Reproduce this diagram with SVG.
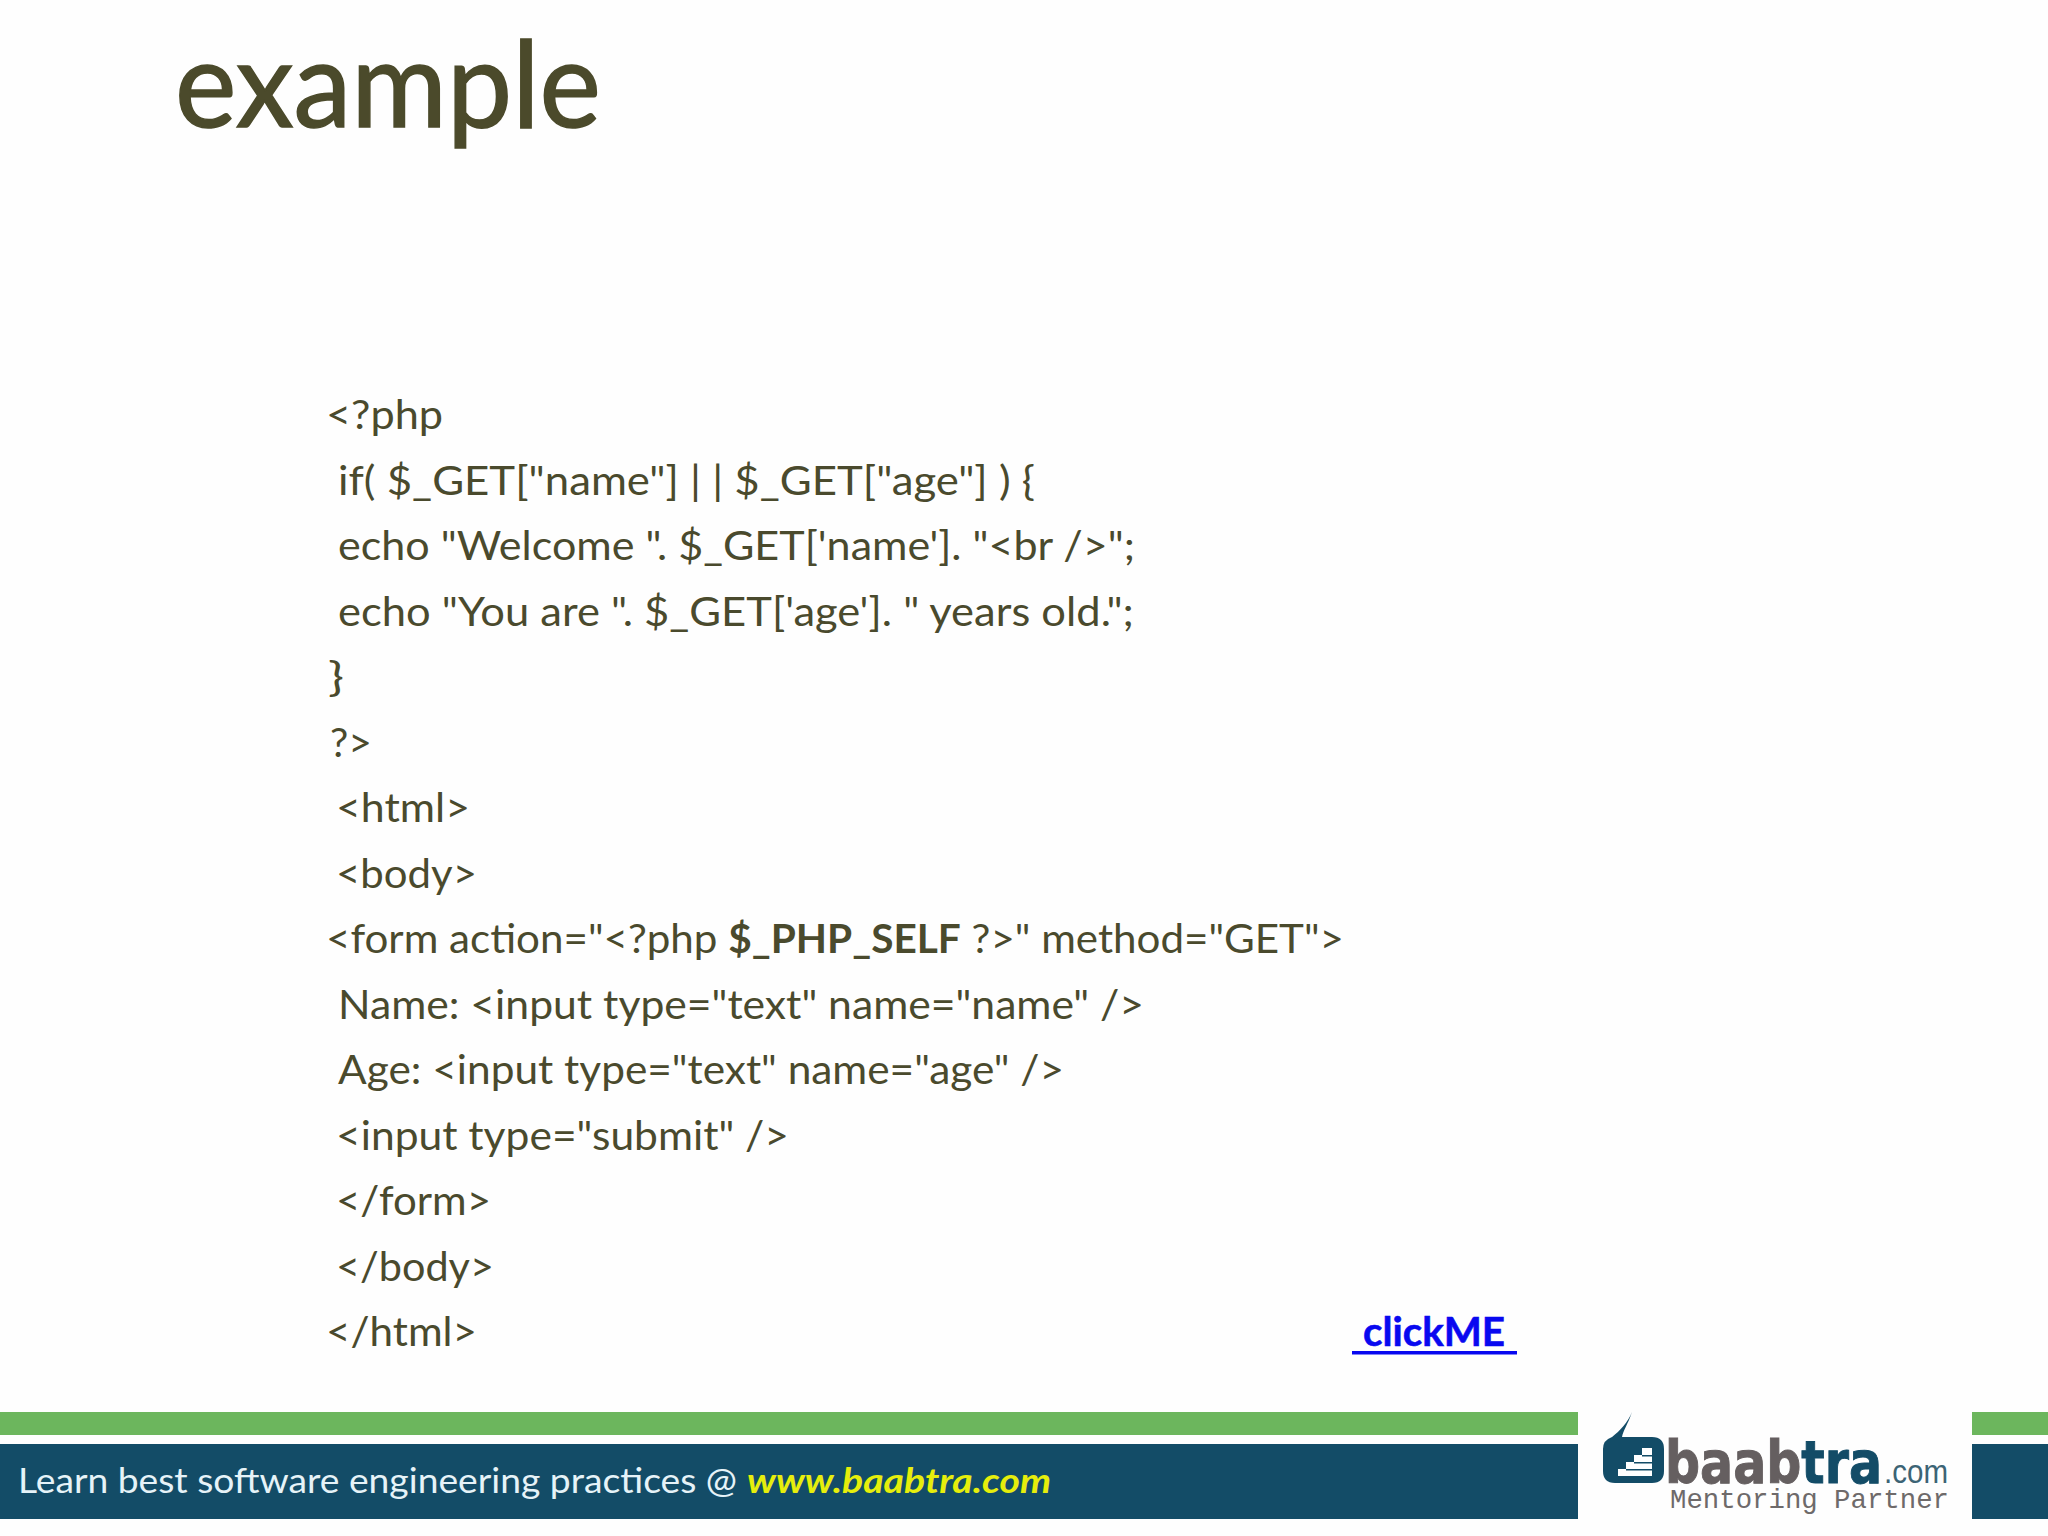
<svg xmlns="http://www.w3.org/2000/svg" width="2048" height="1536" viewBox="0 0 2048 1536">
<style>
text{font-family:Lato,"Open Sans",sans-serif}
.c{font-size:41px;fill:#4a4a2d}
.g{fill:#6cb65d}
.b{fill:#134c67}
</style>
<rect width="2048" height="1536" fill="#fefefe"/>
<text x="175" y="127" font-size="120" fill="#4b4a2b" stroke="#4b4a2b" stroke-width="1.5" textLength="426" lengthAdjust="spacingAndGlyphs">example</text>
<g id="code">
<text class="c" x="326" y="429" textLength="117" lengthAdjust="spacingAndGlyphs">&lt;?php</text>
<text class="c" x="338" y="495" textLength="697" lengthAdjust="spacingAndGlyphs">if( $_GET["name"] | | $_GET["age"] ) {</text>
<text class="c" x="338" y="560" textLength="797" lengthAdjust="spacingAndGlyphs">echo "Welcome ". $_GET['name']. "&lt;br /&gt;";</text>
<text class="c" x="338" y="626" textLength="796" lengthAdjust="spacingAndGlyphs">echo "You are ". $_GET['age']. " years old.";</text>
<text class="c" x="328" y="691" textLength="16" lengthAdjust="spacingAndGlyphs">}</text>
<text class="c" x="330" y="757" textLength="42" lengthAdjust="spacingAndGlyphs">?&gt;</text>
<text class="c" x="336" y="822" textLength="134" lengthAdjust="spacingAndGlyphs">&lt;html&gt;</text>
<text class="c" x="336" y="888" textLength="141" lengthAdjust="spacingAndGlyphs">&lt;body&gt;</text>
<text class="c" x="326" y="953" textLength="1018" lengthAdjust="spacingAndGlyphs">&lt;form action="&lt;?php <tspan font-weight="700" font-size="39.5">$_PHP_SELF</tspan> ?&gt;" method="GET"&gt;</text>
<text class="c" x="338" y="1019" textLength="806" lengthAdjust="spacingAndGlyphs">Name: &lt;input type="text" name="name" /&gt;</text>
<text class="c" x="338" y="1084" textLength="726" lengthAdjust="spacingAndGlyphs">Age: &lt;input type="text" name="age" /&gt;</text>
<text class="c" x="336" y="1150" textLength="453" lengthAdjust="spacingAndGlyphs">&lt;input type="submit" /&gt;</text>
<text class="c" x="336" y="1215" textLength="155" lengthAdjust="spacingAndGlyphs">&lt;/form&gt;</text>
<text class="c" x="336" y="1281" textLength="158" lengthAdjust="spacingAndGlyphs">&lt;/body&gt;</text>
<text class="c" x="326" y="1346" textLength="151" lengthAdjust="spacingAndGlyphs">&lt;/html&gt;</text>
</g>
<g id="link">
<text x="1363" y="1346" font-size="41" font-weight="700" fill="#0808f0" stroke="#0808f0" stroke-width=".6" textLength="142" lengthAdjust="spacingAndGlyphs">clickME</text>
<rect x="1352" y="1351" width="165" height="3.5" fill="#0808f0"/>
</g>
<g id="footer">
<rect class="g" x="0" y="1412" width="1578" height="23"/>
<rect class="b" x="0" y="1444" width="1578" height="75"/>
<rect class="g" x="1972" y="1412" width="76" height="23"/>
<rect class="b" x="1972" y="1444" width="76" height="75"/>
<text x="18" y="1493" font-size="35" fill="#e6f3f8" textLength="719" lengthAdjust="spacingAndGlyphs">Learn best software engineering practices @</text>
<text x="747" y="1493" font-size="35" font-weight="700" font-style="italic" fill="#e6ee0c" textLength="304" lengthAdjust="spacingAndGlyphs">www.baabtra.com</text>
</g>
<g id="logo">
<path class="b" d="M1632 1412C1628 1424 1623 1431 1622 1437H1652Q1664 1437 1664 1449V1471Q1664 1483 1652 1483H1615Q1603 1483 1603 1471V1449Q1603 1440 1612 1437C1620 1431 1628 1422 1632 1412Z"/>
<path fill="#fff" d="M1618 1476V1469H1626V1462H1634V1455H1642V1448H1652V1476Z"/>
<path class="b" d="M1626 1469H1652V1470.5H1626ZM1634 1462H1652V1463.5H1634ZM1642 1455H1652V1456.5H1642Z"/>
<text x="1665" y="1483" font-size="58" font-weight="700" fill="#655f60" stroke="#655f60" stroke-width="1" style="font-family:'DejaVu Sans',sans-serif" textLength="217" lengthAdjust="spacingAndGlyphs">baab<tspan fill="#134c67" stroke="#134c67">tra</tspan></text>
<text x="1884" y="1483" font-size="33" fill="#3c6475" style="font-family:'Liberation Sans',sans-serif" textLength="64" lengthAdjust="spacingAndGlyphs">.com</text>
<text x="1670" y="1508" font-size="28" fill="#6e6a6a" style="font-family:'Liberation Mono',monospace" textLength="279" lengthAdjust="spacingAndGlyphs">Mentoring Partner</text>
</g>
</svg>
